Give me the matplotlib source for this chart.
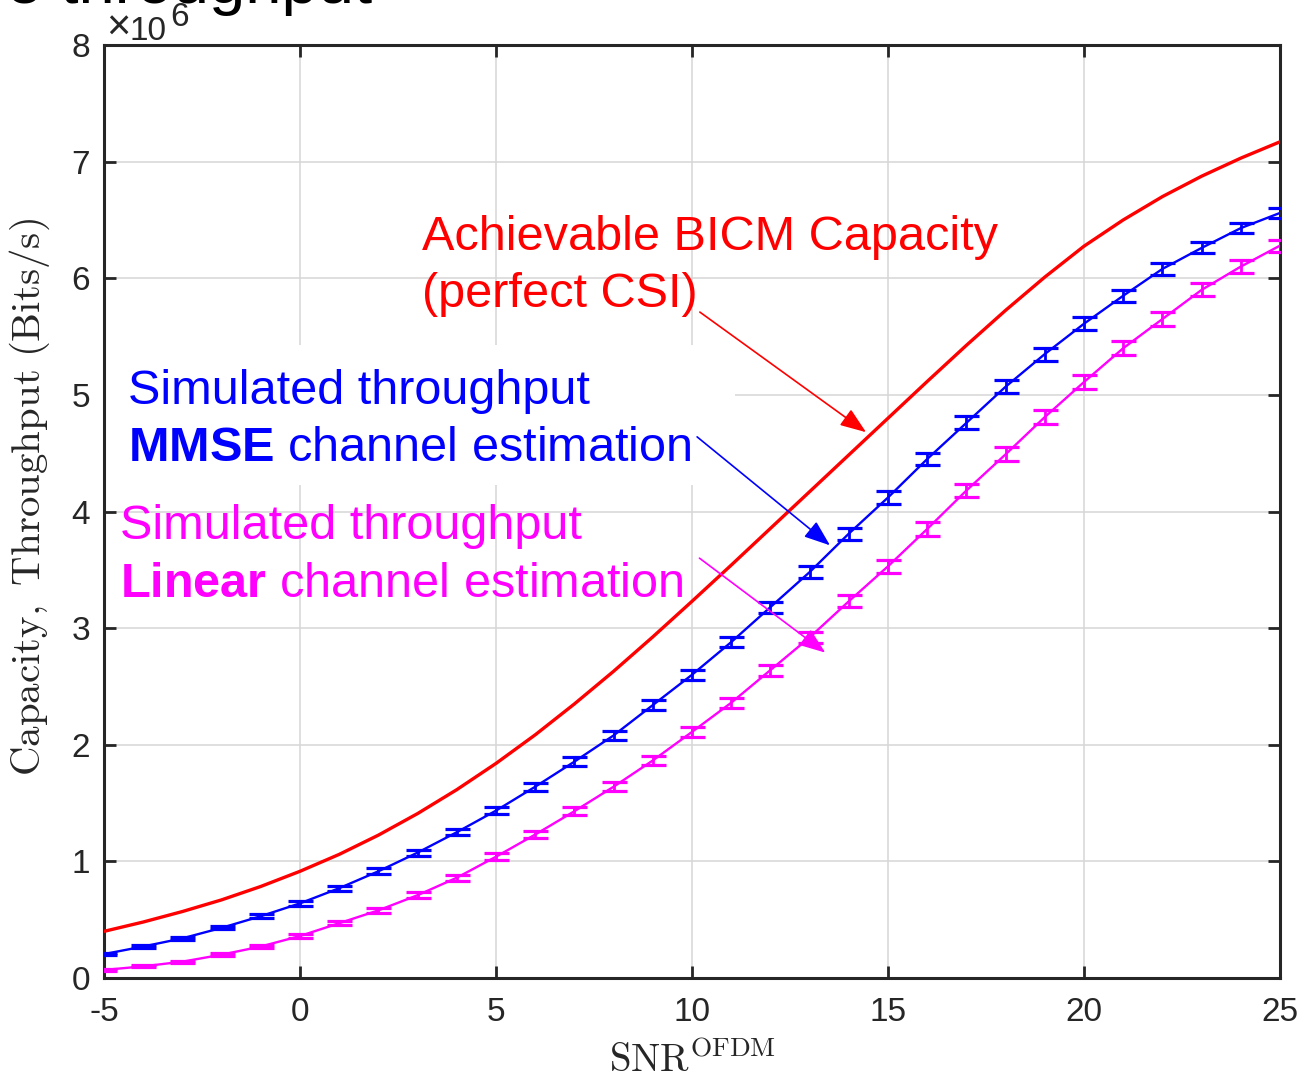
import numpy as np
import matplotlib
matplotlib.use('Agg')
import matplotlib.pyplot as plt
from matplotlib.patches import Rectangle
from matplotlib.ticker import FuncFormatter

# SNR grid (dB)
snr = list(range(-5, 26))

# Achievable BICM capacity, perfect CSI (bits/s)
capacity = [0.40, 0.48, 0.57, 0.67, 0.785, 0.915, 1.06, 1.225, 1.41, 1.615, 1.84,
            2.085, 2.35, 2.63, 2.925, 3.23, 3.54, 3.855, 4.17, 4.485, 4.80,
            5.115, 5.425, 5.725, 6.01, 6.275, 6.50, 6.70, 6.875, 7.03, 7.17]

# Simulated throughput, MMSE channel estimation
tp_mmse = [0.205, 0.27, 0.34, 0.43, 0.53, 0.64, 0.77, 0.915, 1.075, 1.25, 1.435,
           1.64, 1.855, 2.08, 2.34, 2.60, 2.88, 3.18, 3.48, 3.81, 4.12,
           4.45, 4.76, 5.07, 5.35, 5.61, 5.85, 6.08, 6.26, 6.43, 6.56]
err_mmse = [0.008, 0.010, 0.012, 0.014, 0.016, 0.020, 0.022, 0.024, 0.026, 0.028, 0.030,
            0.033, 0.036, 0.038, 0.040, 0.043, 0.045, 0.047, 0.050, 0.052, 0.053,
            0.055, 0.056, 0.056, 0.056, 0.055, 0.053, 0.050, 0.047, 0.043, 0.040]

# Simulated throughput, linear channel estimation
tp_linear = [0.069, 0.10, 0.14, 0.20, 0.27, 0.36, 0.47, 0.58, 0.71, 0.86, 1.04,
             1.23, 1.43, 1.64, 1.865, 2.11, 2.36, 2.64, 2.92, 3.23, 3.53,
             3.85, 4.18, 4.49, 4.81, 5.11, 5.40, 5.65, 5.90, 6.10, 6.28]
err_linear = [0.006, 0.008, 0.010, 0.012, 0.014, 0.017, 0.019, 0.021, 0.024, 0.026, 0.028,
              0.031, 0.034, 0.037, 0.040, 0.042, 0.045, 0.048, 0.050, 0.053, 0.055,
              0.057, 0.058, 0.059, 0.060, 0.060, 0.059, 0.058, 0.056, 0.054, 0.052]

SCALE = 1e6
xticks = [-5, 0, 5, 10, 15, 20, 25]
yticks = [0, 1, 2, 3, 4, 5, 6, 7, 8]

plt.rcParams['font.family'] = ['Liberation Sans', 'DejaVu Sans']
plt.rcParams['mathtext.fontset'] = 'custom'
plt.rcParams['mathtext.rm'] = 'Liberation Sans'
plt.rcParams['mathtext.bf'] = 'Liberation Sans:bold'

DARK = '#262626'

fig = plt.figure(figsize=(13.04, 10.76), dpi=100)
ax = fig.add_axes([104 / 1304, 98 / 1076, 1176 / 1304, 933 / 1076])

x = np.array(snr)
ax.plot(x, np.array(capacity) * SCALE, color='red', lw=2.4, zorder=3)
ax.errorbar(x, np.array(tp_mmse) * SCALE, yerr=np.array(err_mmse) * SCALE,
            color='blue', lw=1.7, elinewidth=2.0, capsize=9, capthick=2.3, zorder=3)
ax.errorbar(x, np.array(tp_linear) * SCALE, yerr=np.array(err_linear) * SCALE,
            color='magenta', lw=1.7, elinewidth=2.0, capsize=9, capthick=2.3, zorder=3)

ax.set_xlim(-5, 25)
ax.set_ylim(0, 8 * SCALE)
ax.set_xticks(xticks)
ax.set_yticks([v * SCALE for v in yticks])
ax.yaxis.set_major_formatter(FuncFormatter(lambda v, p: f'{v / SCALE:g}'))
ax.xaxis.set_major_formatter(FuncFormatter(lambda v, p: f'{v:g}'))

ax.grid(True, color='#d6d6d6', lw=1.1)
ax.set_axisbelow(True)
ax.tick_params(direction='in', length=8.6, width=2.0, top=True, right=True,
               labelsize=24, colors=DARK, pad=10)
ax.tick_params(axis='x', pad=14)
for s in ax.spines.values():
    s.set_linewidth(2.2)
    s.set_color(DARK)

ax.set_xlabel(r'$\mathrm{SNR}^{\mathrm{OFDM}}$', math_fontfamily='cm',
              fontsize=28, color=DARK, labelpad=9)
ax.set_ylabel(r'$\mathrm{Capacity,\ Throughput\ (Bits/s)}$', math_fontfamily='cm',
              fontsize=29.5, color=DARK)
ax.yaxis.set_label_coords(-0.0442, 0.5155)

# white box behind the MMSE label
ax.add_patch(Rectangle((-5, 4.23 * SCALE), 16.1, 1.2 * SCALE, facecolor='white',
                       edgecolor='none', zorder=1.5))

ax.text(3.11, 5.75 * SCALE, 'Achievable BICM Capacity\n(perfect CSI)', color='red',
        fontsize=35, zorder=4, linespacing=1.36)
ax.text(-4.39, 4.43 * SCALE, 'Simulated throughput\n$\\mathbf{MMSE}$ channel estimation',
        color='blue', fontsize=35, zorder=4, linespacing=1.36)
ax.text(-4.6, 3.27 * SCALE, 'Simulated throughput\n$\\mathbf{Linear}$ channel estimation',
        color='magenta', fontsize=35, zorder=4, linespacing=1.36)

arrows = [((10.20, 5.71), (14.44, 4.68), 'red'),
          ((10.13, 4.64), (13.52, 3.71), 'blue'),
          ((10.19, 3.60), (13.40, 2.79), 'magenta')]
for (x0, y0), (x1, y1), c in arrows:
    ax.annotate('', xy=(x1, y1 * SCALE), xytext=(x0, y0 * SCALE),
                arrowprops=dict(arrowstyle='-|>,head_length=0.8,head_width=0.3',
                                color=c, lw=1.2, shrinkA=0, shrinkB=0,
                                mutation_scale=20), zorder=5)

# exponent label
fig.text(106 / 1304, 1 - 40 / 1076, '\u00d7', fontsize=30, color=DARK, va='baseline')
fig.text(130 / 1304, 1 - 40 / 1076, '10', fontsize=24, color=DARK, va='baseline')
fig.text(170 / 1304, 1 - 26 / 1076, '6', fontsize=24, color=DARK, va='baseline')

# title, mostly cut off by the top edge
fig.text(372 / 1304, 1 - 3 / 1076, 'e throughput', fontsize=47, color='black',
         ha='right', va='baseline')

fig.savefig('out.png', dpi=100)
